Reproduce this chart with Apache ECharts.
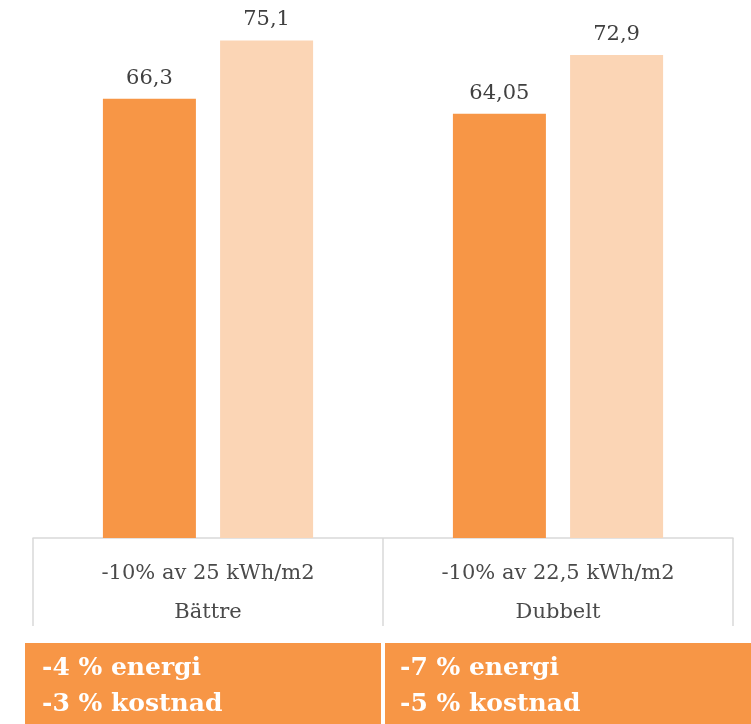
<!DOCTYPE html>
<html>
<head>
<meta charset="utf-8">
<script src="https://cdn.jsdelivr.net/npm/echarts@6/dist/echarts.min.js"></script>
<style>
  html, body { margin: 0; padding: 0; background: #fff; }
  #chart { width: 751px; height: 724px; }
</style>
</head>
<body>
<div id="chart"></div>
<script>
// Category labels (two rows under each group)
const subLabels = ['-10% av 25 kWh/m2', '-10% av 22,5 kWh/m2'];
const groupLabels = ['Bättre', 'Dubbelt'];

// Bar values
const seriesA = [66.3, 64.05];
const seriesB = [75.1, 72.9];

// Summary boxes under each group
const summaryLines = [
  ['-4 % energi', '-3 % kostnad'],
  ['-7 % energi', '-5 % kostnad']
];

const FONT = '"DejaVu Serif", "Liberation Serif", serif';
const DARK = '#F79646';
const LIGHT = '#FBD5B5';

const categories = subLabels.map((s, i) => s + '\n' + groupLabels[i]);

const chart = echarts.init(document.getElementById('chart'));

const valueLabel = {
  show: true,
  position: 'top',
  distance: 10,
  fontFamily: FONT,
  fontSize: 21,
  color: '#404040',
  formatter: p => String(p.value).replace('.', ',')
};

chart.setOption({
  animation: false,
  grid: { left: 33, right: 18, top: 8, bottom: 186 },
  xAxis: {
    type: 'category',
    data: categories,
    boundaryGap: true,
    axisLine: { show: true, lineStyle: { color: '#D9D9D9', width: 1.5 } },
    axisTick: {
      show: true,
      interval: 0,
      length: 88,
      lineStyle: { color: '#D9D9D9', width: 1.5 }
    },
    axisLabel: {
      interval: 0,
      margin: 16,
      fontFamily: FONT,
      fontSize: 21,
      color: '#4A4A4A',
      lineHeight: 39
    }
  },
  yAxis: {
    type: 'value',
    min: 0,
    max: 80,
    show: false,
    splitLine: { show: false }
  },
  series: [
    {
      type: 'bar',
      data: seriesA,
      barWidth: 93,
      barGap: '26%',
      itemStyle: { color: DARK },
      label: valueLabel
    },
    {
      type: 'bar',
      data: seriesB,
      barWidth: 93,
      itemStyle: { color: LIGHT },
      label: valueLabel
    }
  ],
  graphic: [
    { type: 'rect', left: 25, top: 643, shape: { width: 356, height: 81 }, style: { fill: DARK } },
    { type: 'rect', left: 385, top: 643, shape: { width: 366, height: 81 }, style: { fill: DARK } },
    {
      type: 'text', left: 42, top: 650,
      style: { text: summaryLines[0].join('\n'), fill: '#fff', font: 'bold 25px ' + FONT, lineHeight: 36 }
    },
    {
      type: 'text', left: 400, top: 650,
      style: { text: summaryLines[1].join('\n'), fill: '#fff', font: 'bold 25px ' + FONT, lineHeight: 36 }
    }
  ]
});
</script>
</body>
</html>
